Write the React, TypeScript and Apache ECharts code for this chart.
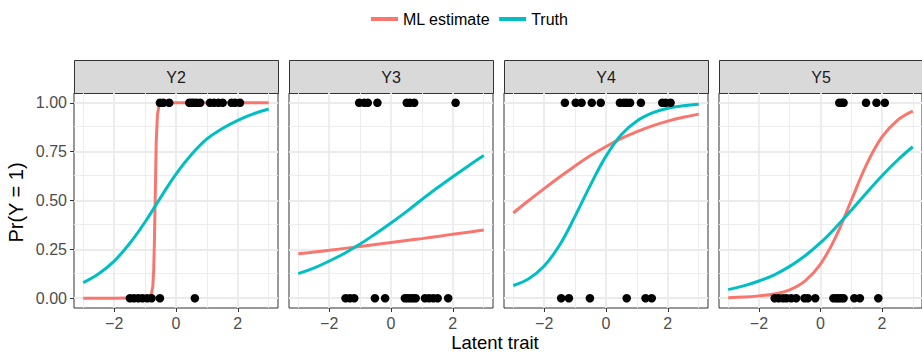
import React, { useEffect, useRef } from "react";
import * as echarts from "echarts";

const panels = ["Y2", "Y3", "Y4", "Y5"];
const xTicks = [-2, 0, 2];
const yTicks = [0, 0.25, 0.5, 0.75, 1];
const xMinor = [-3, -1, 1, 3];
const yMinor = [0.125, 0.375, 0.625, 0.875];

const curveX = [-3, -2.5, -2, -1.5, -1, -0.5, 0, 0.5, 1, 1.5, 2, 2.5, 3];

// Y2
const y2MLX = [-3, -2, -1, -0.85, -0.8, -0.75, -0.72, -0.7, -0.68, -0.66, -0.64, -0.6, -0.55, -0.5, 0, 1, 2, 3];
const y2ML = [0, 0, 0.002, 0.008, 0.02, 0.06, 0.15, 0.28, 0.45, 0.62, 0.8, 0.94, 0.985, 0.995, 1, 1, 1, 1];
const y2Truth = [0.08, 0.125, 0.19, 0.28, 0.39, 0.515, 0.635, 0.735, 0.815, 0.868, 0.91, 0.943, 0.968];
// Y3
const y3ML = [0.227, 0.236, 0.245, 0.255, 0.265, 0.275, 0.285, 0.295, 0.305, 0.316, 0.327, 0.338, 0.349];
const y3Truth = [0.126, 0.154, 0.19, 0.23, 0.277, 0.33, 0.385, 0.443, 0.505, 0.565, 0.622, 0.677, 0.73];
// Y4
const y4ML = [0.436, 0.5, 0.561, 0.62, 0.677, 0.73, 0.776, 0.818, 0.852, 0.882, 0.906, 0.926, 0.942];
const y4Truth = [0.065, 0.1, 0.165, 0.272, 0.42, 0.58, 0.727, 0.838, 0.907, 0.948, 0.972, 0.985, 0.992];
// Y5
const y5ML = [0.003, 0.006, 0.012, 0.022, 0.043, 0.089, 0.175, 0.315, 0.5, 0.685, 0.825, 0.91, 0.957];
const y5Truth = [0.044, 0.063, 0.088, 0.12, 0.163, 0.217, 0.284, 0.363, 0.45, 0.54, 0.627, 0.706, 0.775];

// observed responses (latent trait values)
const y2Ones = [-0.52, -0.41, -0.22, 0.43, 0.51, 0.58, 0.67, 0.78, 1.1, 1.23, 1.37, 1.51, 1.8, 1.91, 2.07];
const y2Zeros = [-1.49, -1.36, -1.22, -1.08, -0.93, -0.79, -0.52, 0.61];
const y3Ones = [-1.03, -0.87, -0.75, -0.44, 0.51, 0.61, 0.75, 2.09];
const y3Zeros = [-1.47, -1.33, -1.19, -0.52, -0.19, 0.45, 0.54, 0.63, 0.72, 0.8, 1.1, 1.23, 1.37, 1.51, 1.85];
const y4Ones = [-1.33, -0.98, -0.79, -0.46, -0.17, 0.45, 0.58, 0.67, 0.78, 1.13, 1.82, 1.93, 2.09];
const y4Zeros = [-1.45, -1.2, -0.52, 0.67, 1.28, 1.48];
const y5Ones = [0.61, 0.69, 0.75, 1.48, 1.82, 2.09];
const y5Zeros = [-1.49, -1.36, -1.22, -1.11, -0.95, -0.79, -0.52, -0.41, -0.17, 0.42, 0.51, 0.58, 0.67, 0.75, 1.1, 1.28, 1.88];

const panelData = [
  { mlX: y2MLX, ml: y2ML, truth: y2Truth, ones: y2Ones, zeros: y2Zeros, mlSmooth: false },
  { mlX: curveX, ml: y3ML, truth: y3Truth, ones: y3Ones, zeros: y3Zeros, mlSmooth: true },
  { mlX: curveX, ml: y4ML, truth: y4Truth, ones: y4Ones, zeros: y4Zeros, mlSmooth: true },
  { mlX: curveX, ml: y5ML, truth: y5Truth, ones: y5Ones, zeros: y5Zeros, mlSmooth: true },
];

const RED = "#F8766D";
const TEAL = "#00BFC4";
const FONT = "'Liberation Sans', Arial, Helvetica, sans-serif";

const PANEL_LEFT0 = 74;
const PANEL_STEP = 215;
const PANEL_W = 204;
const PANEL_TOP = 93;
const PANEL_H = 215;
const STRIP_TOP = 60;

export default function App() {
  const ref = useRef<HTMLDivElement>(null);
  useEffect(() => {
    document.body.style.margin = "0";
    const chart = echarts.init(ref.current!, null, { renderer: "svg" });

    const grids = panels.map((_, i) => ({
      left: PANEL_LEFT0 + i * PANEL_STEP,
      top: PANEL_TOP,
      width: PANEL_W,
      height: PANEL_H,
      show: true,
      backgroundColor: "#ffffff",
      borderColor: "#333333",
      borderWidth: 1,
    }));

    const xAxes = panels.map((_, i) => ({
      gridIndex: i,
      type: "value",
      min: -3.3,
      max: 3.3,
      axisLine: { show: false, onZero: false },
      splitLine: { show: false },
      axisTick: { show: true, customValues: xTicks, length: 4, lineStyle: { color: "#333333", width: 1 } },
      axisLabel: {
        customValues: xTicks,
        formatter: (v: number) => String(v).replace("-", "\u2212"),
        color: "#4D4D4D",
        fontSize: 16,
        fontFamily: FONT,
        margin: 7,
      },
    }));

    const yAxes = panels.map((_, i) => ({
      gridIndex: i,
      type: "value",
      min: -0.05,
      max: 1.05,
      axisLine: { show: false, onZero: false },
      splitLine: { show: false },
      axisTick: { show: i === 0, customValues: yTicks, length: 4, lineStyle: { color: "#333333", width: 1 } },
      axisLabel: {
        show: i === 0,
        customValues: yTicks,
        formatter: (v: number) => v.toFixed(2),
        color: "#4D4D4D",
        fontSize: 16,
        fontFamily: FONT,
        margin: 7,
      },
    }));

    const gridLineData = [
      ...xMinor.map((v) => ({ xAxis: v, lineStyle: { color: "#EBEBEB", width: 0.9, type: "solid" } })),
      ...yMinor.map((v) => ({ yAxis: v, lineStyle: { color: "#EBEBEB", width: 0.9, type: "solid" } })),
      ...xTicks.map((v) => ({ xAxis: v, lineStyle: { color: "#EBEBEB", width: 1.8, type: "solid" } })),
      ...yTicks.map((v) => ({ yAxis: v, lineStyle: { color: "#EBEBEB", width: 1.8, type: "solid" } })),
    ];

    const series: any[] = [];
    panelData.forEach((p, i) => {
      series.push({
        type: "line",
        xAxisIndex: i,
        yAxisIndex: i,
        data: [],
        silent: true,
        z: 1,
        markLine: {
          silent: true,
          symbol: "none",
          z: 1,
          label: { show: false },
          emphasis: { disabled: true },
          data: gridLineData,
        },
      });
      series.push({
        name: "ML estimate",
        type: "line",
        xAxisIndex: i,
        yAxisIndex: i,
        data: p.mlX.map((x, k) => [x, p.ml[k]]),
        symbol: "none",
        showSymbol: false,
        smooth: p.mlSmooth ? 0.4 : false,
        lineStyle: { color: RED, width: 3 },
        itemStyle: { color: RED },
        z: 3,
      });
      series.push({
        name: "Truth",
        type: "line",
        xAxisIndex: i,
        yAxisIndex: i,
        data: curveX.map((x, k) => [x, p.truth[k]]),
        symbol: "none",
        showSymbol: false,
        smooth: 0.4,
        lineStyle: { color: TEAL, width: 3 },
        itemStyle: { color: TEAL },
        z: 3,
      });
      series.push({
        type: "scatter",
        xAxisIndex: i,
        yAxisIndex: i,
        data: [...p.ones.map((x) => [x, 1]), ...p.zeros.map((x) => [x, 0])],
        symbolSize: 8.5,
        itemStyle: { color: "#000000", opacity: 1 },
        z: 4,
      });
    });

    const graphics: any[] = [];
    panels.forEach((name, i) => {
      const left = PANEL_LEFT0 + i * PANEL_STEP;
      graphics.push({
        type: "rect",
        shape: { x: left + 0.5, y: STRIP_TOP + 0.5, width: PANEL_W, height: PANEL_TOP - STRIP_TOP },
        style: { fill: "#D9D9D9", stroke: "#333333", lineWidth: 1 },
      });
      graphics.push({
        type: "text",
        x: left + PANEL_W / 2,
        y: (STRIP_TOP + PANEL_TOP) / 2 + 1,
        style: {
          text: name,
          fontSize: 16,
          fontFamily: FONT,
          fill: "#1A1A1A",
          textAlign: "center",
          textVerticalAlign: "middle",
        },
      });
    });
    graphics.push({
      type: "text",
      x: 16,
      y: PANEL_TOP + PANEL_H / 2 + 2,
      rotation: Math.PI / 2,
      style: {
        text: "Pr(Y = 1)",
        fontSize: 20,
        fontFamily: FONT,
        fill: "#000000",
        textAlign: "center",
        textVerticalAlign: "middle",
      },
    });
    graphics.push({
      type: "text",
      x: 495,
      y: 342,
      style: {
        text: "Latent trait",
        fontSize: 18.5,
        fontFamily: FONT,
        fill: "#000000",
        textAlign: "center",
        textVerticalAlign: "middle",
      },
    });

    chart.setOption({
      animation: false,
      backgroundColor: "#ffffff",
      legend: {
        data: ["ML estimate", "Truth"],
        left: 366,
        top: 6,
        icon: "rect",
        itemWidth: 27,
        itemHeight: 4,
        itemGap: 9,
        textStyle: { fontSize: 16, color: "#000000", fontFamily: FONT },
      },
      grid: grids,
      xAxis: xAxes,
      yAxis: yAxes,
      series,
      graphic: graphics,
    });
    return () => chart.dispose();
  }, []);
  return <div ref={ref} style={{ width: 922, height: 353 }} />;
}
